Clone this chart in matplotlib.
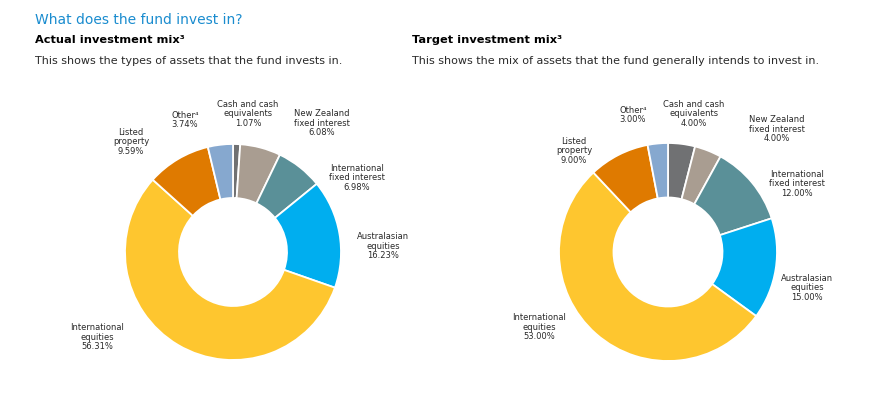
import matplotlib.pyplot as plt

# data
categories = ["Cash and cash\nequivalents", "New Zealand\nfixed interest",
              "International\nfixed interest", "Australasian\nequities",
              "International\nequities", "Listed\nproperty", "Other\u2074"]
actual = [1.07, 6.08, 6.98, 16.23, 56.31, 9.59, 3.74]
target = [4.00, 4.00, 12.00, 15.00, 53.00, 9.00, 3.00]

colors = ["#707173", "#a99d91", "#5a9098", "#00aeef", "#fec62f", "#df7a00", "#86a8cf"]

W, H = 883, 393

# label positions in pixels (layout only)
actual_lbl = [(248, 114), (322, 123), (357, 178), (383, 246), (97, 337), (131, 142), (185, 120)]
target_lbl = [(694, 114), (777, 129), (797, 184), (807, 288), (539, 327), (574, 151), (633, 115)]

fig = plt.figure(figsize=(W / 100, H / 100), dpi=100)
txt = "#2a2a2a"


def px(x, y):
    return x / W, 1 - y / H


def donut(cx, cy, r, values, lbls):
    ax = fig.add_axes([(cx - r) / W, 1 - (cy + r) / H, 2 * r / W, 2 * r / H])
    ax.pie(values, colors=colors, startangle=90, counterclock=False,
           wedgeprops=dict(width=0.5, edgecolor="white", linewidth=1.3))
    ax.set_xlim(-1, 1)
    ax.set_ylim(-1, 1)
    ax.axis("off")
    for name, v, (x, y) in zip(categories, values, lbls):
        fig.text(*px(x, y), "%s\n%.2f%%" % (name, v), ha="center", va="center",
                 fontsize=6, color=txt, linespacing=1.12)


donut(233, 252, 108, actual, actual_lbl)
donut(668, 252, 109, target, target_lbl)

fig.text(*px(35, 20), "What does the fund invest in?", fontsize=10,
         color="#1a8ccf", va="center")
fig.text(*px(35, 40), "Actual investment mix\u00b3", fontsize=8.2, weight="bold", va="center")
fig.text(*px(412, 40), "Target investment mix\u00b3", fontsize=8.2, weight="bold", va="center")
fig.text(*px(35, 61), "This shows the types of assets that the fund invests in.",
         fontsize=8, color=txt, va="center")
fig.text(*px(412, 61), "This shows the mix of assets that the fund generally intends to invest in.",
         fontsize=8, color=txt, va="center")

fig.savefig("out.png", dpi=100)
